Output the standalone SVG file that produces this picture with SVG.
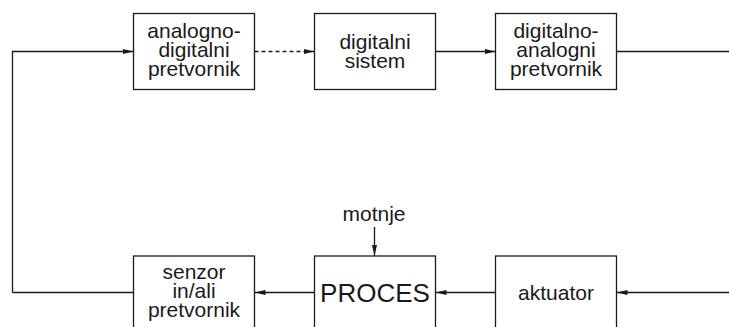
<svg xmlns="http://www.w3.org/2000/svg" width="729" height="327" viewBox="0 0 729 327">
<defs>
<style>
.box{fill:#fff;stroke:#1a1a1a;stroke-width:1.3}
.t{font-family:"Liberation Sans",Arial,sans-serif;font-size:21px;fill:#1a1a1a;text-anchor:middle}
.big{font-size:26px}
.ln{fill:none;stroke:#1a1a1a;stroke-width:1.3}
.dash{stroke-dasharray:4 3}
</style>
<marker id="ah" markerUnits="userSpaceOnUse" markerWidth="12" markerHeight="6" refX="11" refY="3" orient="auto">
<path d="M0,0.5 L11,3 L0,5.5 Z" fill="#1a1a1a"/>
</marker>
</defs>
<rect width="729" height="327" fill="#fff"/>
<g id="connectors">
<path class="ln" d="M12.5,292.5 V51.5 H133.5" marker-end="url(#ah)"/>
<path class="ln dash" d="M254.5,51.5 H314.5" marker-end="url(#ah)"/>
<path class="ln" d="M435.5,51.5 H495.5" marker-end="url(#ah)"/>
<path class="ln" d="M616.5,51.5 H729"/>
<path class="ln" d="M729,292.5 H616.5" marker-end="url(#ah)"/>
<path class="ln" d="M495.5,292.5 H435.5" marker-end="url(#ah)"/>
<path class="ln" d="M314.5,292.5 H254.5" marker-end="url(#ah)"/>
<path class="ln" d="M133.5,292.5 H12.5"/>
<path class="ln" d="M374.5,227 V256" marker-end="url(#ah)"/>
</g>
<g id="ad">
<rect class="box" x="133.5" y="13.5" width="121" height="76"/>
<text class="t" x="194" y="37.5">analogno-</text>
<text class="t" x="194" y="56.5">digitalni</text>
<text class="t" x="194" y="75.5">pretvornik</text>
</g>
<g id="ds">
<rect class="box" x="314.5" y="13.5" width="121" height="76"/>
<text class="t" x="375" y="49">digitalni</text>
<text class="t" x="375" y="67.5">sistem</text>
</g>
<g id="da">
<rect class="box" x="495.5" y="13.5" width="121" height="76"/>
<text class="t" x="556" y="37.5">digitalno-</text>
<text class="t" x="556" y="56.5">analogni</text>
<text class="t" x="556" y="75.5">pretvornik</text>
</g>
<g id="senzor">
<rect class="box" x="133.5" y="256" width="121" height="80"/>
<text class="t" x="194" y="278.5">senzor</text>
<text class="t" x="194" y="297.5">in/ali</text>
<text class="t" x="194" y="316.5">pretvornik</text>
</g>
<g id="proces">
<rect class="box" x="314.5" y="256" width="121" height="80"/>
<text class="t big" x="375" y="301.5">PROCES</text>
</g>
<g id="aktuator">
<rect class="box" x="495.5" y="256" width="121" height="80"/>
<text class="t" x="556" y="300">aktuator</text>
</g>
<g id="motnje">
<text class="t" x="374" y="220.5">motnje</text>
</g>
</svg>
